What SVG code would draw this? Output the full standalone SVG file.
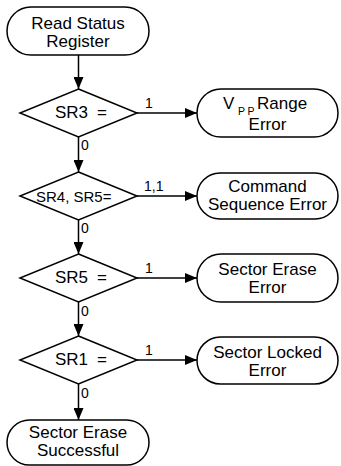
<svg xmlns="http://www.w3.org/2000/svg" width="341" height="466" viewBox="0 0 341 466">
<defs>
<style>
.shape{fill:#fff;stroke:#000;stroke-width:1.5}
.ln{fill:none;stroke:#000;stroke-width:1.5}
text{font-family:"Liberation Sans",Arial,sans-serif;font-size:17px;fill:#000}
.c{text-anchor:middle}
.lbl{font-size:14px}
.sub{font-size:10.5px;letter-spacing:2.5px}
.sm{font-size:15px}
</style>
<marker id="ah" viewBox="0 0 12 10" refX="12" refY="5" markerWidth="12" markerHeight="10" markerUnits="userSpaceOnUse" orient="auto">
<path d="M0,0 L12,5 L0,10 Z" fill="#000"/>
</marker>
</defs>
<g id="connectors">
<line class="ln" x1="78.5" y1="55" x2="78.5" y2="89" marker-end="url(#ah)"/>
<line class="ln" x1="137" y1="113" x2="197" y2="113" marker-end="url(#ah)"/>
<line class="ln" x1="78.5" y1="137" x2="78.5" y2="172" marker-end="url(#ah)"/>
<line class="ln" x1="137" y1="196" x2="197" y2="196" marker-end="url(#ah)"/>
<line class="ln" x1="78.5" y1="220" x2="78.5" y2="254" marker-end="url(#ah)"/>
<line class="ln" x1="137" y1="278" x2="197" y2="278" marker-end="url(#ah)"/>
<line class="ln" x1="78.5" y1="302" x2="78.5" y2="336" marker-end="url(#ah)"/>
<line class="ln" x1="137" y1="360" x2="197" y2="360" marker-end="url(#ah)"/>
<line class="ln" x1="78.5" y1="384" x2="78.5" y2="420" marker-end="url(#ah)"/>
<text class="lbl" x="145" y="108">1</text>
<text class="lbl" x="81" y="150">0</text>
<text class="lbl" x="144" y="191">1,1</text>
<text class="lbl" x="81" y="233">0</text>
<text class="lbl" x="145" y="273">1</text>
<text class="lbl" x="81" y="316">0</text>
<text class="lbl" x="145" y="355">1</text>
<text class="lbl" x="81" y="398">0</text>
</g>
<g id="start">
<rect class="shape" x="7" y="7" width="142" height="48" rx="24"/>
<text class="c" x="78" y="29">Read Status</text>
<text class="c" x="78" y="47">Register</text>
</g>
<g id="d1">
<polygon class="shape" points="78.5,89 137,113 78.5,137 20,113"/>
<text x="55" y="118">SR3</text>
<text x="97" y="118">=</text>
</g>
<g id="e1">
<rect class="shape" x="197" y="89" width="141" height="48" rx="24"/>
<text x="223" y="109">V</text>
<text class="sub" x="238" y="115">PP</text>
<text x="257" y="109">Range</text>
<text class="c" x="267.5" y="130">Error</text>
</g>
<g id="d2">
<polygon class="shape" points="78.5,172 137,196 78.5,220 20,196"/>
<text class="sm" x="36" y="202">SR4, SR5=</text>
</g>
<g id="e2">
<rect class="shape" x="197" y="173" width="141" height="46" rx="23"/>
<text class="c" x="267.5" y="192">Command</text>
<text class="c" x="267.5" y="210">Sequence Error</text>
</g>
<g id="d3">
<polygon class="shape" points="78.5,254 137,278 78.5,302 20,278"/>
<text x="55" y="283">SR5</text>
<text x="97" y="283">=</text>
</g>
<g id="e3">
<rect class="shape" x="197" y="254" width="141" height="48" rx="24"/>
<text class="c" x="267.5" y="275">Sector  Erase</text>
<text class="c" x="267.5" y="293">Error</text>
</g>
<g id="d4">
<polygon class="shape" points="78.5,336 137,360 78.5,384 20,360"/>
<text x="55" y="365">SR1</text>
<text x="97" y="365">=</text>
</g>
<g id="e4">
<rect class="shape" x="197" y="337" width="141" height="47" rx="23.5"/>
<text class="c" x="267.5" y="358">Sector Locked</text>
<text class="c" x="267.5" y="376">Error</text>
</g>
<g id="end">
<rect class="shape" x="7" y="420" width="142" height="45" rx="22.5"/>
<text class="c" x="78" y="438">Sector Erase</text>
<text class="c" x="78" y="456">Successful</text>
</g>
</svg>
